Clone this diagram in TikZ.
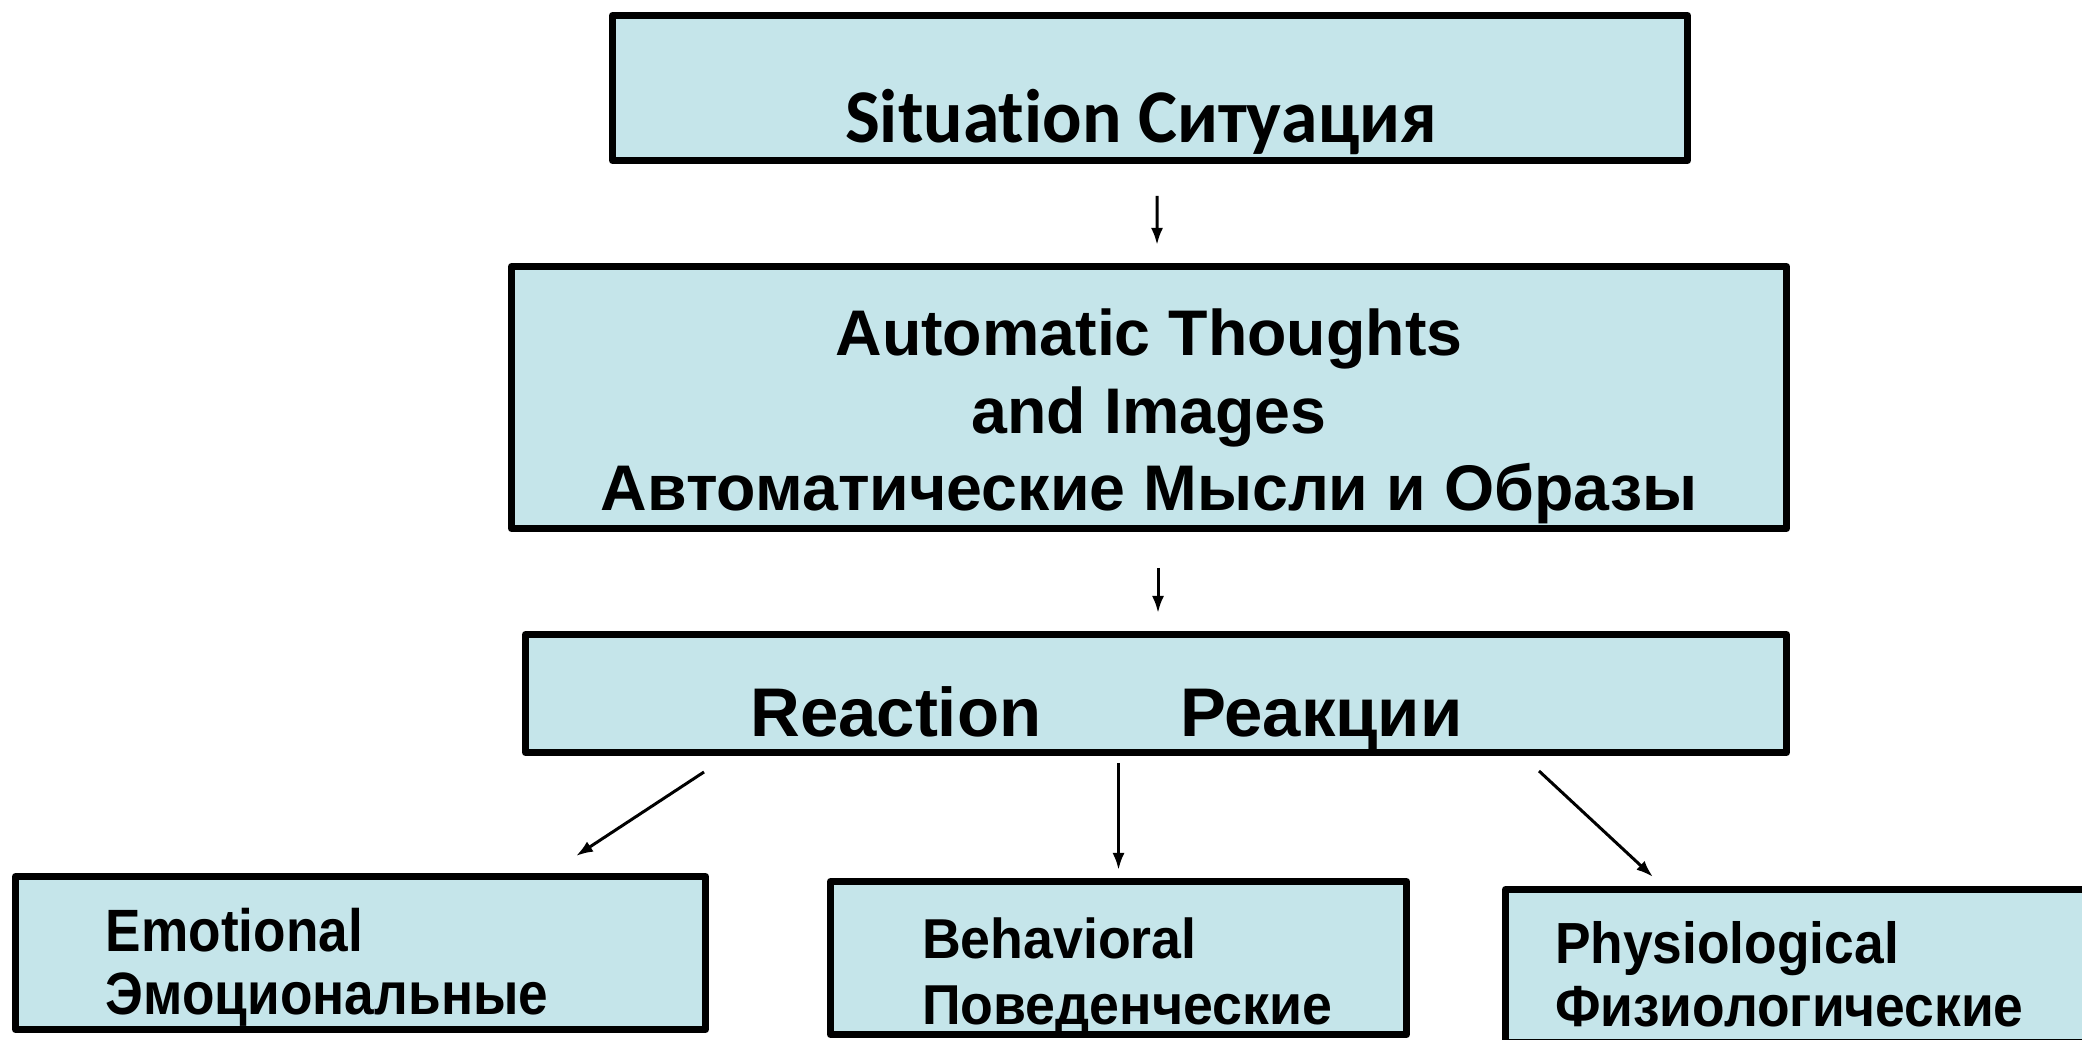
\documentclass[tikz,border=0pt]{standalone}
\usepackage{fontspec}
\usepackage{xcolor}
\usepackage{tikz}
\usetikzlibrary{arrows.meta, positioning, calc}
\newfontfamily\headsans[FakeStretch=0.97, Ligatures=NoCommon]{Carlito}
\newfontfamily\boxsans{Liberation Sans}
\newfontfamily\emosans[FakeStretch=0.89]{Liberation Sans}
\newfontfamily\behsans[FakeStretch=0.955]{Liberation Sans}
\newfontfamily\physsans[FakeStretch=0.92]{Liberation Sans}
\definecolor{boxfill}{HTML}{C5E5EA}

\begin{document}
\begin{tikzpicture}[
    box/.style={draw=black, fill=boxfill, line width=2pt, line join=round, inner sep=0pt, outer sep=0pt, align=center},
    kind/.style={box, align=left, inner xsep=0pt, execute at begin node={\setlength{\leftskip}{#1}}},
    arrow/.style={-{Latex[length=1.7mm, width=1.2mm]}, line width=0.85pt, draw=black}
]
    \useasboundingbox (0,0) rectangle (20.82,10.40);
    \clip (0,0) rectangle (20.82,10.40);

    % Main chain
    \node[box, minimum width=10.75cm, text height=1.275cm, text depth=0.175cm,
          font=\headsans\bfseries\fontsize{21.6pt}{26pt}\selectfont] (sit) at (11.50,9.52) {Situation Ситуация\hspace*{0.18cm}};
    \node[box, minimum width=12.75cm, text height=2.445cm, text depth=0.175cm,
          font=\boxsans\bfseries\fontsize{18.35pt}{22.05pt}\selectfont] (auto) at (11.49,6.425) {Automatic Thoughts\\and Images\\Автоматические Мысли и Образы};
    \node[box, minimum width=12.61cm, text height=1.025cm, text depth=0.155cm,
          font=\boxsans\bfseries\fontsize{19.6pt}{23pt}\selectfont] (react) at (11.56,3.465) {Reaction\hspace{1.39cm}Реакции\hspace*{0.99cm}};

    % Reaction kinds
    \node[kind=0.905cm, text width=6.90cm, text height=0.755cm, text depth=0.775cm,
          font=\emosans\bfseries\fontsize{17pt}{17.9pt}\selectfont] (emo) at (3.605,0.87) {Emotional\\Эмоциональные};
    \node[kind=0.915cm, text width=5.76cm, text height=0.775cm, text depth=0.755cm,
          font=\behsans\bfseries\fontsize{16pt}{18.5pt}\selectfont] (beh) at (11.185,0.82) {Behavioral\\Поведенческие};
    \node[kind=0.495cm, text width=6.40cm, text height=0.745cm, text depth=0.785cm,
          font=\physsans\bfseries\fontsize{16.5pt}{17.9pt}\selectfont] (phys) at (18.255,0.74) {Physiological\\Физиологические};

    % Connectors
    \draw[arrow] ($(sit.south)+(0.07,-0.355)$) -- ($(auto.north)+(0.08,0.215)$);
    \draw[arrow] ($(auto.south)+(0.09,-0.395)$) -- ($(react.north)+(0.02,0.215)$);
    \draw[arrow] ($(react.south west)+(1.785,-0.195)$) -- ($(emo.north west)+(5.605,0.205)$);
    \draw[arrow] ($(beh.north |- react.south)+(0,-0.105)$) -- ($(beh.north)+(0,0.115)$);
    \draw[arrow] ($(react.south east)+(-2.475,-0.185)$) -- ($(phys.north west)+(1.475,0.125)$);
\end{tikzpicture}
\end{document}
